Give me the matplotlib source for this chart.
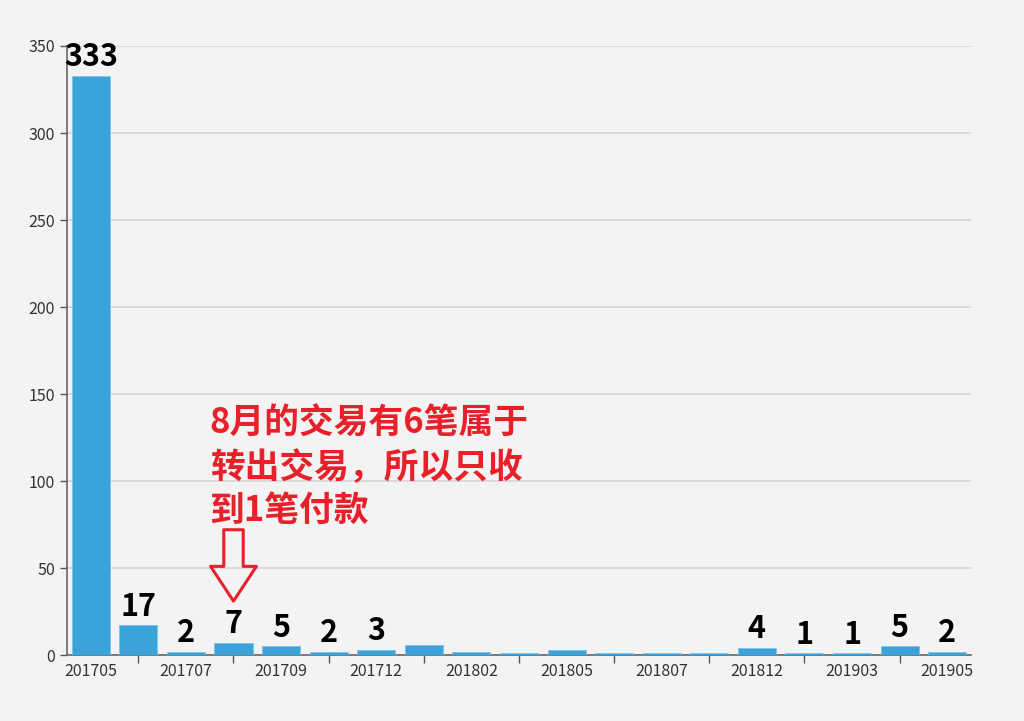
import matplotlib.pyplot as plt

plt.rcParams['font.family'] = ['Noto Sans CJK SC', 'DejaVu Sans']

# monthly counts (labels shown only on every other month)
months = ['201705', '201706', '201707', '201708', '201709', '201710', '201712',
          '201801', '201802', '201803', '201805', '201806', '201807', '201810',
          '201812', '201901', '201903', '201904', '201905']
counts = [333, 17, 2, 7, 5, 2, 3, 6, 2, 1, 3, 1, 1, 1, 4, 1, 1, 5, 2]
# which bars carry a value label
labelled = [True, True, True, True, True, True, True, False, False, False,
            False, False, False, False, True, True, True, True, True]

note = '8月的交易有6笔属于\n转出交易，所以只收\n到1笔付款'
note_month = '201708'

bar_color = '#3aa3da'
red = '#e8202a'
bg = '#f3f3f3'

fig = plt.figure(figsize=(10.24, 7.21), dpi=100, facecolor=bg)
ax = fig.add_axes([0.0654, 0.0915, 0.8828, 0.8447], facecolor=bg)

x = list(range(len(months)))
bars = ax.bar(x, counts, width=0.8, color=bar_color, edgecolor='#7cc3ea', linewidth=0.6, zorder=3)

for xi, c, show in zip(x, counts, labelled):
    if show:
        ax.annotate(str(c), (xi, c), xytext=(0, 2), textcoords='offset points',
                    ha='center', va='bottom', fontsize=22,
                    fontweight='bold', color='black', zorder=4)

ax.set_xlim(-0.5, len(months) - 0.5)
ax.set_ylim(0, 350)
ax.set_yticks(range(0, 351, 50))
ax.grid(axis='y', color='#d6d6d6', linewidth=1.2, zorder=0)

# labels on even months, ticks on odd months
ax.set_xticks(x[::2])
ax.set_xticklabels(months[::2])
ax.set_xticks(x[1::2], minor=True)
ax.tick_params(axis='x', which='major', length=0, pad=6, labelsize=11.5, colors='#333333')
ax.tick_params(axis='x', which='minor', length=6, width=1, color='#555555')
ax.tick_params(axis='y', length=5, width=1, color='#555555', labelsize=11.5, labelcolor='#333333')

for side in ['top', 'right']:
    ax.spines[side].set_visible(False)
for side in ['left', 'bottom']:
    ax.spines[side].set_color('#666666')
    ax.spines[side].set_linewidth(1.2)

# annotation text and hollow arrow
xa = months.index(note_month)
ax.text(xa - 0.5, 143, note, ha='left', va='top', fontsize=25, fontweight='bold',
        color=red, linespacing=1.3, zorder=5)
ax.annotate('', xy=(xa, 31), xytext=(xa, 72),
            arrowprops=dict(arrowstyle='simple,head_length=1.25,head_width=1.65,tail_width=0.7',
                            fc='none', ec=red, lw=2.2, mutation_scale=20,
                            shrinkA=0, shrinkB=0), zorder=5)

fig.savefig('out.png', dpi=100, facecolor=bg)
